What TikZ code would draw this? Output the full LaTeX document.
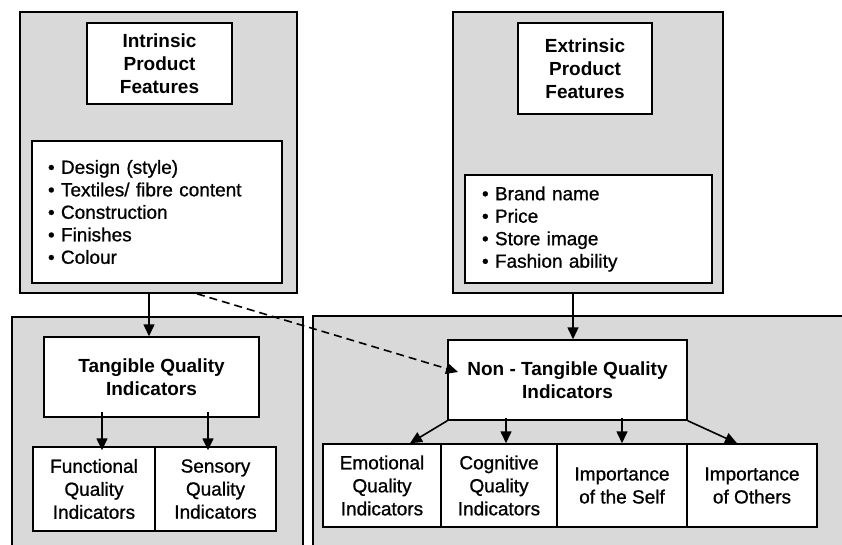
\documentclass[tikz,border=0pt]{standalone}
\usepackage{fontspec}
\setmainfont{Liberation Sans}
\newfontfamily\bodyfont{Liberation Sans}[FakeBold=0.9]
\usetikzlibrary{arrows.meta,calc}
\definecolor{panelgray}{RGB}{217,217,217}
\begin{document}
\begin{tikzpicture}[x=1pt,y=-1pt,
  panel/.style={draw, fill=panelgray, line width=1.6pt, inner sep=0pt},
  hbox/.style={draw, fill=white, line width=1.5pt, inner sep=0pt, align=center,
    font=\fontsize{19}{23}\selectfont\bfseries},
  lbox/.style={draw, fill=white, line width=1.5pt, inner ysep=0pt, inner xsep=16pt,
    align=left, font=\bodyfont\fontsize{19}{22.5}\selectfont},
  sbox/.style={draw, fill=white, line width=1.5pt, inner sep=0pt, align=center,
    font=\bodyfont\fontsize{19}{23}\selectfont},
  arr/.style={line width=1.6pt, -{Triangle[length=12pt,width=11pt]}},
  darr/.style={line width=1.6pt, dash pattern=on 8pt off 5pt, -{Triangle[length=12pt,width=11pt]}}]
\useasboundingbox (0,0) rectangle (842,544);
% lower panels (open at bottom / right)
\fill[panelgray] (12,317) rectangle (303,546);
\draw[line width=1.6pt] (12,546) -- (12,317) -- (303,317) -- (303,546);
\fill[panelgray] (313,316) rectangle (844,546);
\draw[line width=1.6pt] (313,546) -- (313,316) -- (844,316);
% upper panels
\node[panel, minimum width=277pt, minimum height=281pt] (p1) at (158.5,152.5) {};
\node[panel, minimum width=270pt, minimum height=281pt] (p2) at (588,152.5) {};
% upper inner boxes
\node[hbox, minimum width=145pt, minimum height=81pt] (intr) at (159.5,63.5) {Intrinsic\\Product\\Features};
\node[lbox, text width=218pt, minimum height=142pt] (ilist) at (157,212)
  {• Design (style)\\• Textiles/ fibre content\\• Construction\\• Finishes\\• Colour};
\node[hbox, minimum width=134pt, minimum height=91pt] (extr) at (585,68.5) {Extrinsic\\Product\\Features};
\node[lbox, inner xsep=17pt, text width=213pt, minimum height=108pt] (elist) at (588.5,229)
  {• Brand name\\• Price\\• Store image\\• Fashion ability};
% tangible side
\node[hbox, minimum width=215pt, minimum height=80pt] (tang) at (151.5,377) {Tangible Quality\\Indicators};
\node[sbox, minimum width=122pt, minimum height=84pt] (func) at (94,489) {Functional\\Quality\\Indicators};
\node[sbox, minimum width=121pt, minimum height=84pt] (sens) at (215.5,489) {Sensory\\Quality\\Indicators};
% non-tangible side
\node[hbox, minimum width=239pt, minimum height=80pt] (nont) at (567.5,380) {Non - Tangible Quality\\Indicators};
\node[sbox, minimum width=118pt, minimum height=83pt] (emo) at (382,485.5) {Emotional\\Quality\\Indicators};
\node[sbox, minimum width=116pt, minimum height=83pt] (cog) at (499,485.5) {Cognitive\\Quality\\Indicators};
\node[sbox, minimum width=130pt, minimum height=83pt] (iself) at (622,485.5) {Importance\\of the Self};
\node[sbox, minimum width=130pt, minimum height=83pt] (ioth) at (752,485.5) {Importance\\of Others};
% connectors
\draw[arr] ([xshift=-2.5pt]tang.north |- p1.south) -- ([xshift=-2.5pt]tang.north);
\draw[arr] ([xshift=5.5pt]nont.north |- p2.south) -- ([xshift=5.5pt]nont.north);
\draw[arr] ([xshift=8pt,yshift=6pt]func.north |- tang.south) -- ([xshift=8pt,yshift=-4pt]func.north);
\draw[arr] ([xshift=-7.5pt,yshift=6pt]sens.north |- tang.south) -- ([xshift=-7.5pt,yshift=-4pt]sens.north);
\draw[arr] (nont.south west) -- ([xshift=28pt]emo.north);
\draw[arr] ([xshift=7pt,yshift=3pt]cog.north |- nont.south) -- ([xshift=7pt]cog.north);
\draw[arr] ([yshift=3pt]iself.north |- nont.south) -- (iself.north);
\draw[arr] (nont.south east) -- ([xshift=-15pt]ioth.north);
\coordinate (dashend) at (458,372);
\draw[darr] ([xshift=38.5pt]p1.south) -- (dashend);
\end{tikzpicture}
\end{document}
